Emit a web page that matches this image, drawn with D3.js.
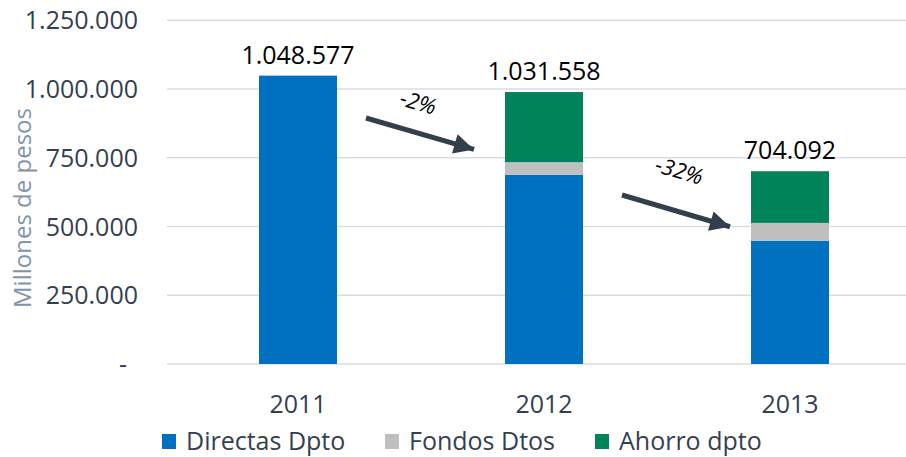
<!DOCTYPE html>
<html>
<head>
<meta charset="utf-8">
<script src="https://cdn.jsdelivr.net/npm/d3@7"></script>
<style>
  body { margin: 0; background: #fff; }
  svg { display: block; font-family: "Open Sans", sans-serif; }
</style>
</head>
<body>
<div id="wrapper"></div>
<script>
// Data
const years = ["2011", "2012", "2013"]
const directas = [1048577, 688000, 448000]
const fondos = [0, 46000, 65000]
const ahorro = [0, 255000, 188000]
const totalLabels = [1048577, 1031558, 704092]
const seriesNames = ["Directas Dpto", "Fondos Dtos", "Ahorro dpto"]
const yTicks = [0, 250000, 500000, 750000, 1000000, 1250000]

const colors = ["#0070c0", "#bfbfbf", "#00825a"]

function drawBars() {
    let dimensions = {
        width: 906,
        height: 457,
        margin: { top: 20, right: 0, bottom: 93, left: 167 },
    }

    const wrapper = d3.select("#wrapper")
        .append("svg")
            .attr("width", dimensions.width)
            .attr("height", dimensions.height)

    // Scales
    const yScale = d3.scaleLinear()
        .domain([0, 1250000])
        .range([364, 20.25])

    const xScale = d3.scaleBand()
        .domain(years)
        .range([175, 913])
        .paddingInner(0.683)
        .paddingOuter(0.3415)

    const fmt = v => v === 0 ? "-" : d3.format(",")(v).replace(/,/g, ".")

    // Gridlines
    wrapper.append("g")
        .selectAll("line")
        .data(yTicks)
        .join("line")
            .attr("x1", dimensions.margin.left)
            .attr("x2", dimensions.width)
            .attr("y1", d => yScale(d))
            .attr("y2", d => yScale(d))
            .attr("stroke", "#d9dde3")
            .attr("stroke-width", 1.5)

    // Y tick labels
    wrapper.append("g")
        .selectAll("text")
        .data(yTicks)
        .join("text")
            .attr("x", d => d === 0 ? 127 : 138)
            .attr("y", d => yScale(d) + 9)
            .attr("text-anchor", "end")
            .attr("font-size", 25)
            .attr("fill", "#333f50")
            .text(fmt)

    // Y title
    wrapper.append("text")
        .attr("transform", "translate(31, 208) rotate(-90)")
        .attr("text-anchor", "middle")
        .attr("font-size", 24)
        .attr("fill", "#7f94a8")
        .text("Millones de pesos")

    // Stacked bars
    const table = years.map((y, i) => ({
        year: y, directas: directas[i], fondos: fondos[i], ahorro: ahorro[i]
    }))
    const stack = d3.stack().keys(["directas", "fondos", "ahorro"])(table)

    wrapper.append("g")
        .selectAll("g")
        .data(stack)
        .join("g")
            .attr("fill", (d, i) => colors[i])
        .selectAll("rect")
        .data(d => d)
        .join("rect")
            .attr("x", d => xScale(d.data.year))
            .attr("width", xScale.bandwidth())
            .attr("y", d => yScale(d[1]))
            .attr("height", d => yScale(d[0]) - yScale(d[1]))

    // Total labels
    const tops = stack[stack.length - 1].map(d => d[1])
    wrapper.append("g")
        .selectAll("text")
        .data(years)
        .join("text")
            .attr("x", d => xScale(d) + xScale.bandwidth() / 2)
            .attr("y", (d, i) => yScale(tops[i]) - 12)
            .attr("text-anchor", "middle")
            .attr("font-size", 25)
            .attr("fill", "#000")
            .text((d, i) => fmt(totalLabels[i]))

    // X labels
    wrapper.append("g")
        .selectAll("text")
        .data(years)
        .join("text")
            .attr("x", d => xScale(d) + xScale.bandwidth() / 2)
            .attr("y", 413)
            .attr("text-anchor", "middle")
            .attr("font-size", 25)
            .attr("fill", "#333f50")
            .text(d => d)

    // Change arrows (from one bar to the next)
    const changes = d3.range(1, years.length).map(i => ({
        from: years[i - 1], to: years[i],
        pct: Math.round((totalLabels[i] - totalLabels[i - 1]) / totalLabels[i - 1] * 100),
    }))
    const arrowY = [[894500, 772000], [614500, 490500]]
    const arrowGap = [[29, 23], [39, 13]]
    const labelShift = [[-8, 25], [-3, 34]]

    const defs = wrapper.append("defs")
    defs.append("marker")
        .attr("id", "head")
        .attr("viewBox", "0 0 10 10")
        .attr("refX", 10).attr("refY", 5)
        .attr("markerWidth", 4.4).attr("markerHeight", 4)
        .attr("markerUnits", "strokeWidth")
        .attr("orient", "auto")
      .append("path")
        .attr("d", "M0,0 L10,5 L0,10 Z")
        .attr("fill", "#333f4a")

    changes.forEach((c, i) => {
        const x1 = xScale(c.from) + xScale.bandwidth() + arrowGap[i][0]
        const x2 = xScale(c.to) - arrowGap[i][1]
        const y1 = yScale(arrowY[i][0])
        const y2 = yScale(arrowY[i][1])
        wrapper.append("line")
            .attr("x1", x1).attr("y1", y1)
            .attr("x2", x2 - 8).attr("y2", y2 - 8 * (y2 - y1) / (x2 - x1))
            .attr("stroke", "#333f4a")
            .attr("stroke-width", 5)
            .attr("marker-end", "url(#head)")
        const angle = Math.atan2(y2 - y1, x2 - x1) * 180 / Math.PI
        const cx = (x1 + x2) / 2 + labelShift[i][0]
        const cy = (y1 + y2) / 2 - labelShift[i][1]
        wrapper.append("text")
            .attr("transform", `translate(${cx}, ${cy}) rotate(${angle})`)
            .attr("text-anchor", "middle")
            .attr("font-size", 22)
            .attr("font-style", "italic")
            .attr("fill", "#000")
            .text(c.pct + "%")
    })

    // Legend
    const legendX = [162, 385, 595]
    const legend = wrapper.append("g")
        .selectAll("g")
        .data(seriesNames)
        .join("g")
            .attr("transform", (d, i) => `translate(${legendX[i]}, 434)`)
    legend.append("rect")
        .attr("width", 14).attr("height", 15)
        .attr("fill", (d, i) => colors[i])
    legend.append("text")
        .attr("x", 24).attr("y", 16)
        .attr("font-size", 25)
        .attr("fill", "#333f50")
        .text(d => d)
}

drawBars()
</script>
</body>
</html>
